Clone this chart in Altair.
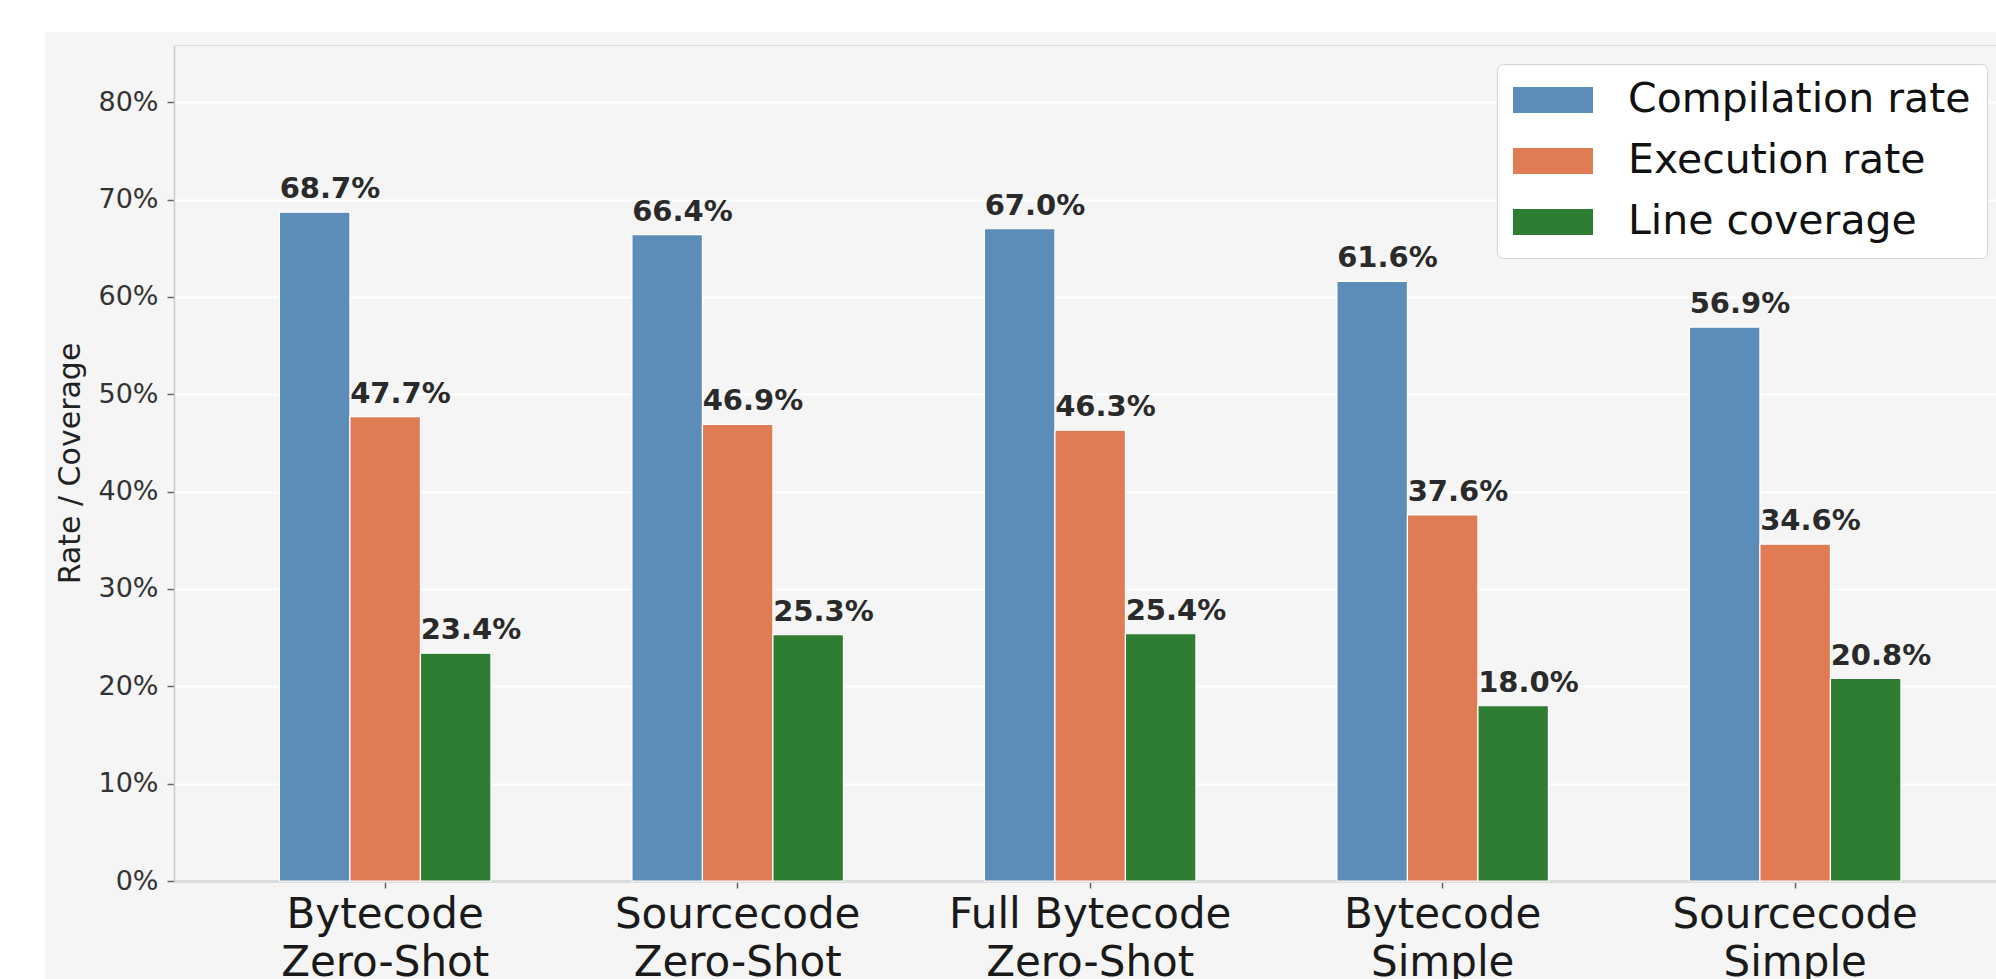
import altair as alt
import pandas as pd

# Prompting setups on the x axis (line breaks are split into two label lines)
setups = [
    "Bytecode\nZero-Shot",
    "Sourcecode\nZero-Shot",
    "Full Bytecode\nZero-Shot",
    "Bytecode\nSimple",
    "Sourcecode\nSimple",
]
metrics = ["Compilation rate", "Execution rate", "Line coverage"]

# Percentages per setup
compilation = [68.7, 66.4, 67.0, 61.6, 56.9]
execution = [47.7, 46.9, 46.3, 37.6, 34.6]
coverage = [23.4, 25.3, 25.4, 18.0, 20.8]

colors = ["#5b8db8", "#e07b54", "#2e7d32"]
y_ticks = [0, 10, 20, 30, 40, 50, 60, 70, 80]
y_max = 85.875

rows = []
for i, s in enumerate(setups):
    for m, vals in zip(metrics, [compilation, execution, coverage]):
        rows.append({"setup": s, "metric": m, "value": vals[i]})
df = pd.DataFrame(rows)

W, H = 1822, 836
PAD_L, PAD_T, PAD_B = 174, 45, 98
FONT = "DejaVu Sans"

base = alt.Chart(df).encode(
    x=alt.X(
        "setup:N",
        sort=setups,
        title=None,
        scale=alt.Scale(paddingInner=0, paddingOuter=0.0844, align=0.587),
        axis=alt.Axis(
            labelExpr="split(datum.label, '\\n')",
            labelAngle=0,
            labelFontSize=42,
            labelLineHeight=48,
            labelColor="#1a1a1a",
            labelFont=FONT,
            labelAlign="center",
            labelBaseline="top",
            labelPadding=6,
            labelLimit=0,
            labelOverlap=False,
            labelBound=False,
            bandPosition=0.5,
            tickSize=7,
            tickWidth=1.5,
            tickColor="#666666",
            domainColor="#dcdcdc",
            domainWidth=3,
            grid=False,
        ),
    ),
    xOffset=alt.XOffset(
        "metric:N", sort=metrics, scale=alt.Scale(paddingInner=0, paddingOuter=1)
    ),
    y=alt.Y(
        "value:Q",
        scale=alt.Scale(domain=[0, y_max], nice=False, zero=True),
        axis=alt.Axis(
            values=y_ticks,
            labelExpr="datum.value + '%'",
            labelFontSize=27,
            labelColor="#333333",
            labelFont=FONT,
            labelPadding=9,
            tickSize=7,
            tickWidth=1.5,
            tickColor="#666666",
            domainColor="#cccccc",
            domainWidth=1.5,
            grid=True,
            gridColor="#ffffff",
            gridWidth=2,
            title="Rate / Coverage",
            titleFont=FONT,
            titleFontSize=30,
            titleFontWeight="normal",
            titleColor="#222222",
            titleAngle=-90,
            titleX=-95,
            titleY=418,
            titleAlign="center",
            titleBaseline="alphabetic",
        ),
    ),
)

bars = base.mark_bar(stroke="white", strokeWidth=1.2).encode(
    color=alt.Color(
        "metric:N",
        sort=metrics,
        scale=alt.Scale(domain=metrics, range=colors),
        legend=alt.Legend(
            title=None,
            orient="none",
            legendX=1323,
            legendY=19,
            padding=16,
            fillColor="#ffffff",
            strokeColor="#d4d4d4",
            cornerRadius=6,
            symbolType="M-1,-0.325H1V0.325H-1Z",
            symbolSize=6400,
            symbolStrokeWidth=0,
            symbolOpacity=1,
            clipHeight=40,
            labelFont=FONT,
            labelFontSize=41,
            labelColor="#111111",
            labelOffset=35,
            labelLimit=500,
            rowPadding=20,
        ),
    )
)

labels = base.transform_calculate(
    label="format(datum.value, '.1f') + '%'"
).mark_text(
    align="left",
    baseline="alphabetic",
    dx=-35,
    dy=-14,
    font=FONT,
    fontSize=29,
    fontWeight="bold",
    color="#2a2a2a",
).encode(text="label:N")

# White margin strips around the grey figure panel
frame = pd.DataFrame({"k": [0]})
left_strip = alt.Chart(frame).mark_rect(color="white").encode(
    x=alt.value(-PAD_L), x2=alt.value(-129), y=alt.value(-PAD_T), y2=alt.value(H + PAD_B)
)
top_strip = alt.Chart(frame).mark_rect(color="white").encode(
    x=alt.value(-PAD_L), x2=alt.value(W), y=alt.value(-PAD_T), y2=alt.value(-13)
)

chart = alt.layer(bars, labels, left_strip, top_strip).properties(
    width=W,
    height=H,
    autosize=alt.AutoSizeParams(type="none"),
    padding={"left": PAD_L, "top": PAD_T, "right": 0, "bottom": PAD_B},
    background="#f5f5f5",
).configure_view(stroke=None).configure(font=FONT)

chart.save("out.html", embed_options={"renderer": "svg", "actions": False})
